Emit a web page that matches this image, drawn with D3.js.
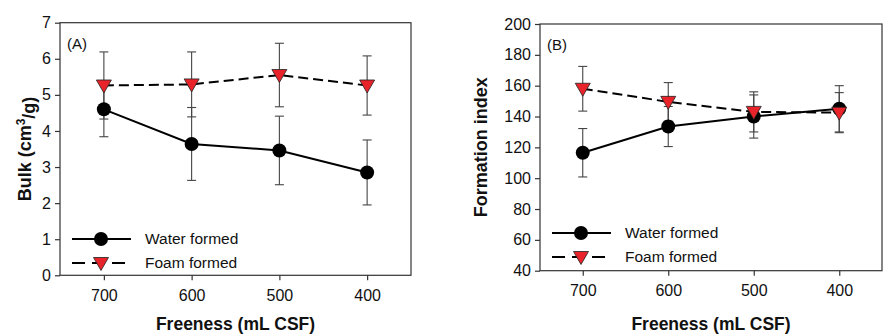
<!DOCTYPE html>
<html>
<head>
<meta charset="utf-8">
<title>Bulk and formation vs freeness</title>
<script src="https://d3js.org/d3.v7.min.js"></script>
<style>
  body { margin: 0; background: #fff; }
  svg { font-family: "Liberation Sans", Arial, sans-serif; }
</style>
</head>
<body>
<svg width="896" height="336"></svg>
<script>
var freeness = [700, 600, 500, 400];

// panel A: bulk (cm3/g)
var bulkWater = [4.6, 3.64, 3.46, 2.85];
var bulkWaterErr = [0.76, 1.01, 0.95, 0.9];
var bulkFoam = [5.26, 5.29, 5.55, 5.26];
var bulkFoamErr = [0.93, 0.9, 0.88, 0.82];

// panel B: formation index
var formWater = [116.5, 133.5, 140, 145];
var formWaterErr = [15.7, 13, 14, 15];
var formFoam = [158, 149.5, 143, 142.5];
var formFoamErr = [14.5, 12.5, 13, 13];

var bulkTicks = [0, 1, 2, 3, 4, 5, 6, 7];
var formTicks = [40, 60, 80, 100, 120, 140, 160, 180, 200];

var svg = d3.select("svg");

function panel(opt) {
  var g = svg.append("g");
  var x = d3.scaleLinear().domain([750, 350]).range([opt.left, opt.right]);
  var y = d3.scaleLinear().domain(opt.yDomain).range([opt.bottom, opt.top]);

  // frame
  g.append("rect")
      .attr("x", opt.left).attr("y", opt.top)
      .attr("width", opt.right - opt.left).attr("height", opt.bottom - opt.top)
      .attr("fill", "none").attr("stroke", "#333").attr("stroke-width", 1.2);

  var ya = g.append("g")
      .attr("transform", "translate(" + opt.left + ",0)")
      .call(d3.axisLeft(y).tickValues(opt.yTicks).tickFormat(d3.format("d")).tickSize(5).tickPadding(4));
  var xa = g.append("g")
      .attr("transform", "translate(0," + opt.bottom + ")")
      .call(d3.axisBottom(x).tickValues(freeness).tickFormat(d3.format("d")).tickSize(5).tickPadding(9));
  [ya, xa].forEach(function(a) {
    a.select(".domain").remove();
    a.selectAll("line").attr("stroke", "#333").attr("stroke-width", 1.2);
    a.selectAll("text").attr("font-size", 16).attr("fill", "#111")
      .attr("font-family", "Liberation Sans, Arial, sans-serif");
  });

  g.append("text")
      .attr("transform", "translate(" + opt.ylabX + "," + ((opt.top + opt.bottom) / 2) + ") rotate(-90)")
      .attr("text-anchor", "middle").attr("dy", "0.35em")
      .attr("font-size", 18).attr("font-weight", "bold").attr("fill", "#111")
      .call(opt.ylab);

  g.append("text")
      .attr("x", (opt.left + opt.right) / 2).attr("y", 330)
      .attr("text-anchor", "middle")
      .attr("font-size", 17.5).attr("font-weight", "bold").attr("fill", "#111")
      .text("Freeness (mL CSF)");

  g.append("text")
      .attr("x", opt.left + 7).attr("y", opt.top + 26)
      .attr("font-size", 15).attr("fill", "#111")
      .text(opt.tag);

  var series = [
    { v: opt.water, e: opt.waterErr, dash: null, shape: "circle" },
    { v: opt.foam, e: opt.foamErr, dash: "10,5", shape: "tri" }
  ];

  // error bars
  series.forEach(function(s) {
    freeness.forEach(function(f, i) {
      var cx = x(f), y0 = y(s.v[i] - s.e[i]), y1 = y(s.v[i] + s.e[i]);
      g.append("line").attr("x1", cx).attr("x2", cx).attr("y1", y0).attr("y2", y1)
        .attr("stroke", "#444").attr("stroke-width", 1.1);
      [y0, y1].forEach(function(yy) {
        g.append("line").attr("x1", cx - 4.5).attr("x2", cx + 4.5).attr("y1", yy).attr("y2", yy)
          .attr("stroke", "#444").attr("stroke-width", 1.1);
      });
    });
  });

  var line = d3.line().x(function(d) { return x(d[0]); }).y(function(d) { return y(d[1]); });
  series.forEach(function(s) {
    g.append("path")
        .datum(d3.zip(freeness, s.v))
        .attr("d", line)
        .attr("fill", "none").attr("stroke", "#000").attr("stroke-width", 2)
        .attr("stroke-dasharray", s.dash);
  });

  function marker(sel, shape, cx, cy) {
    if (shape === "circle") {
      sel.append("circle").attr("cx", cx).attr("cy", cy).attr("r", 7)
        .attr("fill", "#000");
    } else {
      sel.append("path")
        .attr("d", "M" + (cx - 7.5) + "," + (cy - 5.5) + "L" + (cx + 7.5) + "," + (cy - 5.5) + "L" + cx + "," + (cy + 7.5) + "Z")
        .attr("fill", "#e8232a").attr("stroke", "#222").attr("stroke-width", 0.8);
    }
  }
  series.forEach(function(s) {
    freeness.forEach(function(f, i) { marker(g, s.shape, x(f), y(s.v[i])); });
  });

  // legend
  var names = ["Water formed", "Foam formed"];
  series.forEach(function(s, i) {
    var ly = opt.legY + i * 24;
    g.append("line").attr("x1", opt.left + 12).attr("x2", opt.left + 71)
      .attr("y1", ly).attr("y2", ly)
      .attr("stroke", "#000").attr("stroke-width", 2).attr("stroke-dasharray", s.dash ? "13,7" : null);
    marker(g, s.shape, opt.left + 41, ly);
    g.append("text").attr("x", opt.left + 85).attr("y", ly).attr("dy", "0.35em")
      .attr("font-size", 15.5).attr("fill", "#111").text(names[i]);
  });
}

panel({
  left: 60, right: 411, top: 22.7, bottom: 275.3,
  yDomain: [0, 7], yTicks: bulkTicks,
  water: bulkWater, waterErr: bulkWaterErr, foam: bulkFoam, foamErr: bulkFoamErr,
  tag: "(A)", ylabX: 25, legY: 239,
  ylab: function(t) {
    t.append("tspan").text("Bulk (cm");
    t.append("tspan").attr("font-size", 12).attr("dy", "-0.55em").text("3");
    t.append("tspan").attr("dy", "0.55em").text("/g)");
  }
});

panel({
  left: 540, right: 882, top: 24, bottom: 270.7,
  yDomain: [40, 200], yTicks: formTicks,
  water: formWater, waterErr: formWaterErr, foam: formFoam, foamErr: formFoamErr,
  tag: "(B)", ylabX: 481, legY: 233,
  ylab: function(t) { t.text("Formation index"); }
});
</script>
</body>
</html>
